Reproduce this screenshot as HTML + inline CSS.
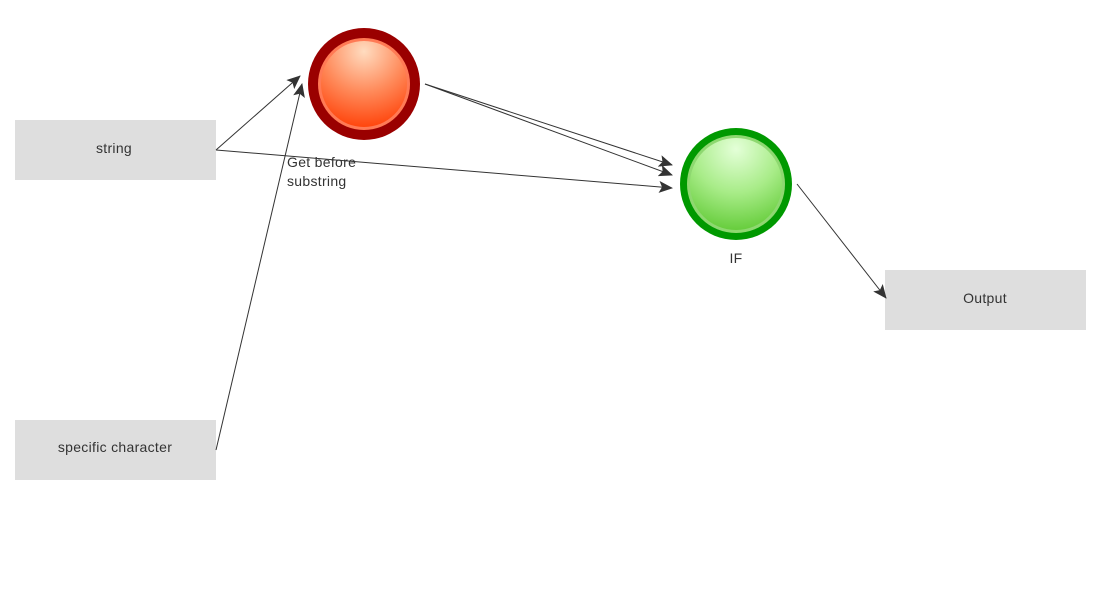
<!DOCTYPE html>
<html><head><meta charset="utf-8"><style>
html,body{margin:0;padding:0;background:#fff;width:1100px;height:600px;overflow:hidden}
svg{display:block}
text{font-family:"Liberation Sans","DejaVu Sans",sans-serif;font-size:14px;fill:#333;letter-spacing:0.3px}
</style></head><body>
<svg width="1100" height="600" viewBox="0 0 1100 600" xmlns="http://www.w3.org/2000/svg">
<defs>
<radialGradient id="rg" cx="0.5" cy="0.12" r="0.95">
<stop offset="0" stop-color="#ffdcc0"/><stop offset="0.5" stop-color="#ff8a5a"/><stop offset="1" stop-color="#ff3a00"/>
</radialGradient>
<radialGradient id="gg" cx="0.5" cy="0.12" r="0.95">
<stop offset="0" stop-color="#e4ffd8"/><stop offset="0.5" stop-color="#a8ec88"/><stop offset="1" stop-color="#5cc830"/>
</radialGradient>
<marker id="a" markerWidth="14" markerHeight="12" refX="13" refY="6" orient="auto" markerUnits="userSpaceOnUse">
<path d="M0,0 L14,6 L0,12 L3,6 Z" fill="#333"/>
</marker>
</defs>
<rect x="15" y="120" width="201" height="60" fill="#dedede"/>
<rect x="15" y="420" width="201" height="60" fill="#dedede"/>
<rect x="885" y="270" width="201" height="60" fill="#dedede"/>
<text x="114" y="153" text-anchor="middle">string</text>
<text x="115" y="452" text-anchor="middle">specific character</text>
<text x="985" y="303" text-anchor="middle">Output</text>
<g stroke="#333" stroke-width="1" fill="none" marker-end="url(#a)">
<line x1="216" y1="150" x2="300" y2="76"/>
<line x1="216" y1="150" x2="672" y2="188"/>
<line x1="216" y1="450" x2="302" y2="84"/>
<line x1="425" y1="84" x2="672" y2="165"/>
<line x1="425" y1="84" x2="672" y2="175"/>
<line x1="797" y1="184" x2="886" y2="298"/>
</g>
<circle cx="364" cy="84" r="56" fill="#9a0000"/>
<circle cx="364" cy="84" r="46" fill="#ff7a55"/>
<circle cx="364" cy="84" r="43" fill="url(#rg)"/>
<circle cx="736" cy="184" r="56" fill="#009900"/>
<circle cx="736" cy="184" r="49" fill="#8ed870"/>
<circle cx="736" cy="184" r="46" fill="url(#gg)"/>
<text x="287" y="167">Get before</text>
<text x="287" y="186">substring</text>
<text x="736" y="263" text-anchor="middle">IF</text>
</svg>
</body></html>
